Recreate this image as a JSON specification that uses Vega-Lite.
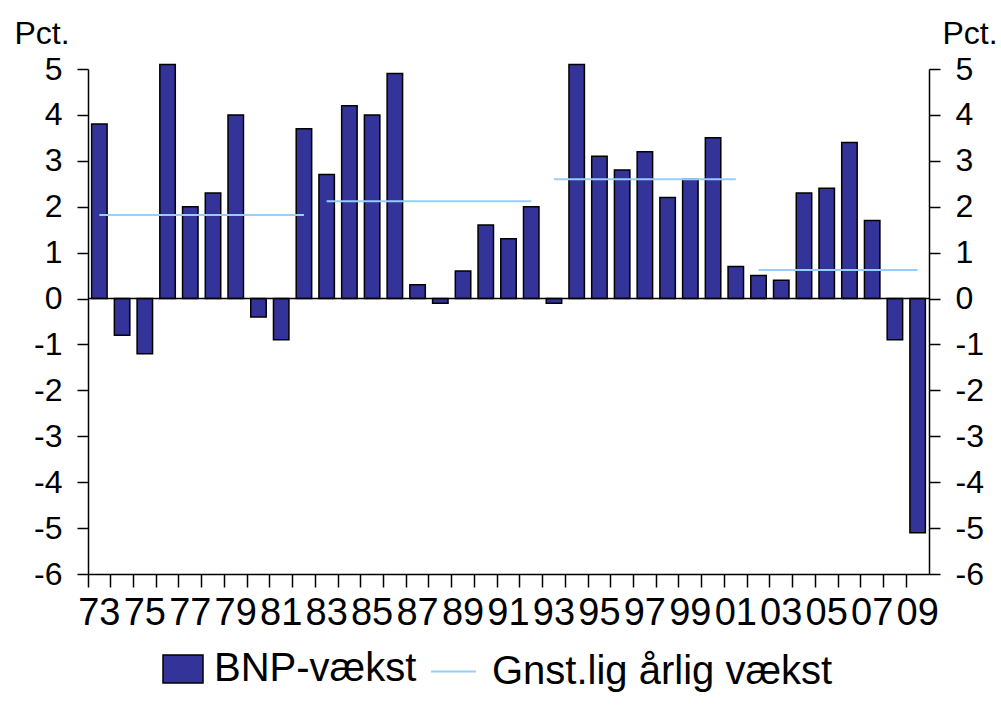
{
  "$schema": "https://vega.github.io/schema/vega-lite/v6.json",
  "width": 841,
  "height": 505,
  "autosize": {"type": "none"},
  "padding": {"left": 88, "top": 69, "right": 72, "bottom": 143},
  "background": "white",
  "config": {
    "view": {"stroke": null},
    "font": "Liberation Sans",
    "axis": {"domainColor": "black", "tickColor": "black", "labelColor": "black", "titleColor": "black", "labelFont": "Liberation Sans", "titleFont": "Liberation Sans", "grid": false},
    "legend": {"labelFont": "Liberation Sans", "labelColor": "black", "labelLimit": 0, "padding": 0}
  },
  "datasets": {
    "bnp": [
      {"år": 1973, "vækst": 3.8, "serie": "BNP-vækst"},
      {"år": 1974, "vækst": -0.8, "serie": "BNP-vækst"},
      {"år": 1975, "vækst": -1.2, "serie": "BNP-vækst"},
      {"år": 1976, "vækst": 5.1, "serie": "BNP-vækst"},
      {"år": 1977, "vækst": 2.0, "serie": "BNP-vækst"},
      {"år": 1978, "vækst": 2.3, "serie": "BNP-vækst"},
      {"år": 1979, "vækst": 4.0, "serie": "BNP-vækst"},
      {"år": 1980, "vækst": -0.4, "serie": "BNP-vækst"},
      {"år": 1981, "vækst": -0.9, "serie": "BNP-vækst"},
      {"år": 1982, "vækst": 3.7, "serie": "BNP-vækst"},
      {"år": 1983, "vækst": 2.7, "serie": "BNP-vækst"},
      {"år": 1984, "vækst": 4.2, "serie": "BNP-vækst"},
      {"år": 1985, "vækst": 4.0, "serie": "BNP-vækst"},
      {"år": 1986, "vækst": 4.9, "serie": "BNP-vækst"},
      {"år": 1987, "vækst": 0.3, "serie": "BNP-vækst"},
      {"år": 1988, "vækst": -0.1, "serie": "BNP-vækst"},
      {"år": 1989, "vækst": 0.6, "serie": "BNP-vækst"},
      {"år": 1990, "vækst": 1.6, "serie": "BNP-vækst"},
      {"år": 1991, "vækst": 1.3, "serie": "BNP-vækst"},
      {"år": 1992, "vækst": 2.0, "serie": "BNP-vækst"},
      {"år": 1993, "vækst": -0.1, "serie": "BNP-vækst"},
      {"år": 1994, "vækst": 5.1, "serie": "BNP-vækst"},
      {"år": 1995, "vækst": 3.1, "serie": "BNP-vækst"},
      {"år": 1996, "vækst": 2.8, "serie": "BNP-vækst"},
      {"år": 1997, "vækst": 3.2, "serie": "BNP-vækst"},
      {"år": 1998, "vækst": 2.2, "serie": "BNP-vækst"},
      {"år": 1999, "vækst": 2.6, "serie": "BNP-vækst"},
      {"år": 2000, "vækst": 3.5, "serie": "BNP-vækst"},
      {"år": 2001, "vækst": 0.7, "serie": "BNP-vækst"},
      {"år": 2002, "vækst": 0.5, "serie": "BNP-vækst"},
      {"år": 2003, "vækst": 0.4, "serie": "BNP-vækst"},
      {"år": 2004, "vækst": 2.3, "serie": "BNP-vækst"},
      {"år": 2005, "vækst": 2.4, "serie": "BNP-vækst"},
      {"år": 2006, "vækst": 3.4, "serie": "BNP-vækst"},
      {"år": 2007, "vækst": 1.7, "serie": "BNP-vækst"},
      {"år": 2008, "vækst": -0.9, "serie": "BNP-vækst"},
      {"år": 2009, "vækst": -5.1, "serie": "BNP-vækst"}
    ],
    "snit": [
      {"fra": 1973, "til": 1982, "snit": 1.82, "serie": "Gnst.lig årlig vækst"},
      {"fra": 1983, "til": 1992, "snit": 2.12, "serie": "Gnst.lig årlig vækst"},
      {"fra": 1993, "til": 2001, "snit": 2.6, "serie": "Gnst.lig årlig vækst"},
      {"fra": 2002, "til": 2009, "snit": 0.62, "serie": "Gnst.lig årlig vækst"}
    ]
  },
  "layer": [
    {
      "data": {"name": "bnp"},
      "mark": {"type": "bar", "width": {"band": 0.68}, "stroke": "black", "strokeWidth": 1.5},
      "encoding": {
        "x": {
          "field": "år", "type": "ordinal",
          "scale": {"domain": [1973,1974,1975,1976,1977,1978,1979,1980,1981,1982,1983,1984,1985,1986,1987,1988,1989,1990,1991,1992,1993,1994,1995,1996,1997,1998,1999,2000,2001,2002,2003,2004,2005,2006,2007,2008,2009], "paddingInner": 0, "paddingOuter": 0},
          "axis": {"orient": "bottom", "bandPosition": 0, "labels": false, "ticks": true, "tickSize": 13, "tickWidth": 1.5, "domainWidth": 1.5, "title": null}
        },
        "y": {
          "field": "vækst", "type": "quantitative", "stack": null,
          "scale": {"domain": [-6, 5], "nice": false},
          "axis": {"orient": "left", "values": [-6,-5,-4,-3,-2,-1,0,1,2,3,4,5], "labelExpr": "toString(datum.value)", "tickSize": 11, "tickWidth": 1.5, "domainWidth": 1.5, "labelFontSize": 32, "labelPadding": 15, "title": "Pct.", "titleAngle": 0, "titleAlign": "left", "titleBaseline": "alphabetic", "titleX": -74, "titleY": -26, "titleFontSize": 32, "titleFontWeight": "normal"}
        },
        "fill": {
          "field": "serie", "type": "nominal",
          "scale": {"domain": ["BNP-vækst"], "range": ["#333399"]},
          "legend": {
            "orient": "none", "legendX": 74, "legendY": 579, "direction": "horizontal", "title": null,
            "labelFontSize": 40, "symbolType": "M-1,-0.7H1V0.7H-1Z", "symbolSize": 1600, "symbolStrokeColor": "black", "symbolStrokeWidth": 1.5, "labelOffset": 10
          }
        }
      }
    },
    {
      "data": {"values": [{}]},
      "mark": {"type": "rule", "color": "black", "strokeWidth": 1.5},
      "encoding": {"y": {"datum": 0, "type": "quantitative", "axis": null}}
    },
    {
      "data": {"name": "snit"},
      "mark": {"type": "rule", "strokeWidth": 2},
      "encoding": {
        "x": {
          "field": "fra", "type": "ordinal",
          "scale": {"domain": [1973,1974,1975,1976,1977,1978,1979,1980,1981,1982,1983,1984,1985,1986,1987,1988,1989,1990,1991,1992,1993,1994,1995,1996,1997,1998,1999,2000,2001,2002,2003,2004,2005,2006,2007,2008,2009], "paddingInner": 0, "paddingOuter": 0},
          "axis": {"orient": "bottom", "values": [1973,1975,1977,1979,1981,1983,1985,1987,1989,1991,1993,1995,1997,1999,2001,2003,2005,2007,2009], "labelExpr": "substring(datum.label, 2, 4)", "ticks": false, "domain": false, "labelAngle": 0, "labelFontSize": 38, "labelPadding": 20, "title": null}
        },
        "x2": {"field": "til"},
        "y": {
          "field": "snit", "type": "quantitative",
          "axis": {"orient": "right", "values": [-6,-5,-4,-3,-2,-1,0,1,2,3,4,5], "labelExpr": "toString(datum.value)", "tickSize": 11, "tickWidth": 1.5, "domainWidth": 1.5, "labelFontSize": 32, "labelPadding": 15, "title": "Pct.", "titleAngle": 0, "titleAlign": "left", "titleBaseline": "alphabetic", "titleX": 13, "titleY": -26, "titleFontSize": 32, "titleFontWeight": "normal"}
        },
        "stroke": {
          "field": "serie", "type": "nominal",
          "scale": {"domain": ["Gnst.lig årlig vækst"], "range": ["#99CCFF"]},
          "legend": {
            "orient": "none", "legendX": 342, "legendY": 579, "direction": "horizontal", "title": null,
            "labelFontSize": 40, "symbolType": "stroke", "symbolSize": 2025, "symbolStrokeWidth": 2, "labelOffset": 15
          }
        }
      }
    }
  ],
  "resolve": {"axis": {"x": "independent", "y": "independent"}}
}
